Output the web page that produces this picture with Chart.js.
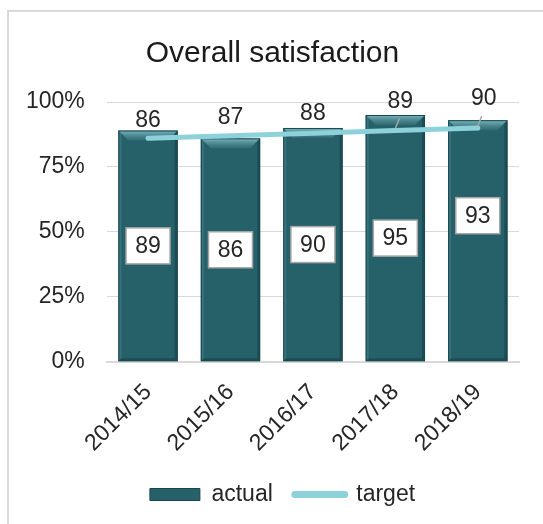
<!DOCTYPE html>
<html>
<head>
<meta charset="utf-8">
<script src="https://cdn.jsdelivr.net/npm/chart.js@4.4.1/dist/chart.umd.min.js"></script>
<style>
    html, body { margin: 0; padding: 0; background: #fff; overflow: hidden; }
    #frame {
        position: absolute; left: 7px; top: 10px;
        width: 580px; height: 580px;
        border: 2px solid #d9d9d9;
    }
    #box { position: absolute; left: 0; top: 0; width: 532px; height: 512px; }
</style>
</head>
<body>
<div id="frame"><div id="box"><canvas id="satisfactionChart"></canvas></div></div>
<script>
var categories = ['2014/15', '2015/16', '2016/17', '2017/18', '2018/19'];
var actualValues = [89, 86, 90, 95, 93];
var targetValues = [86, 87, 88, 89, 90];
var yTicks = [0, 25, 50, 75, 100];

var barColor = '#26616a';
var lineColor = '#8dd2db';
var textColor = '#262626';
var fontFamily = '"Liberation Sans", Arial, sans-serif';

// bevel look on top of the bars
var bevelPlugin = {
    id: 'bevel',
    afterDatasetDraw: function (chart, args) {
        if (chart.data.datasets[args.index].type !== 'bar') return;
        var ctx = chart.ctx;
        args.meta.data.forEach(function (bar) {
            var l = bar.x - bar.width / 2, r = bar.x + bar.width / 2;
            var t = bar.y, b = bar.base, d = 10;
            ctx.save();
            var g = ctx.createLinearGradient(0, t, 0, t + d);
            g.addColorStop(0, 'rgba(140,200,206,0.85)');
            g.addColorStop(1, 'rgba(70,130,138,0.35)');
            ctx.fillStyle = g;
            ctx.beginPath();
            ctx.moveTo(l, t); ctx.lineTo(r, t); ctx.lineTo(r - d, t + d); ctx.lineTo(l + d, t + d);
            ctx.closePath(); ctx.fill();
            ctx.fillStyle = 'rgba(90,150,158,0.35)';
            ctx.beginPath();
            ctx.moveTo(l, t); ctx.lineTo(l + 3, t + 3); ctx.lineTo(l + 3, b - 3); ctx.lineTo(l, b);
            ctx.closePath(); ctx.fill();
            ctx.fillStyle = 'rgba(10,40,45,0.35)';
            ctx.beginPath();
            ctx.moveTo(r, t); ctx.lineTo(r - 3, t + 3); ctx.lineTo(r - 3, b - 3); ctx.lineTo(r, b);
            ctx.closePath(); ctx.fill();
            ctx.beginPath();
            ctx.moveTo(l, b); ctx.lineTo(l + 3, b - 3); ctx.lineTo(r - 3, b - 3); ctx.lineTo(r, b);
            ctx.closePath(); ctx.fill();
            ctx.strokeStyle = '#1b474e';
            ctx.lineWidth = 1;
            ctx.strokeRect(l + 0.5, t + 0.5, bar.width - 1, b - t - 1);
            ctx.restore();
        });
    }
};

// value labels: boxed ones in the bars, plain ones over the target line
var labelPlugin = {
    id: 'valueLabels',
    afterDatasetsDraw: function (chart, args, opts) {
        var ctx = chart.ctx;
        ctx.save();
        ctx.font = '23px ' + fontFamily;
        ctx.textAlign = 'center';
        ctx.textBaseline = 'middle';
        chart.data.datasets.forEach(function (ds, di) {
            var meta = chart.getDatasetMeta(di);
            meta.data.forEach(function (el, i) {
                var txt = String(ds.data[i]);
                if (ds.type === 'bar') {
                    var cy = (el.y + el.base) / 2 + opts.barShift[i];
                    ctx.fillStyle = '#fff';
                    ctx.fillRect(el.x - 22, cy - 18, 44, 36);
                    ctx.strokeStyle = '#a6a6a6';
                    ctx.lineWidth = 1.5;
                    ctx.strokeRect(el.x - 22, cy - 18, 44, 36);
                    ctx.fillStyle = textColor;
                    ctx.fillText(txt, el.x, cy + 1);
                } else {
                    var s = opts.lineShift[i];
                    var lx = el.x + s[0], ly = el.y + s[1];
                    if (s[2]) {
                        ctx.strokeStyle = '#a6a6a6';
                        ctx.lineWidth = 1.5;
                        ctx.beginPath();
                        ctx.moveTo(el.x, el.y - 2);
                        ctx.lineTo(el.x + 4, el.y - 12);
                        ctx.stroke();
                    }
                    ctx.fillStyle = textColor;
                    ctx.fillText(txt, lx, ly);
                }
            });
        });
        ctx.restore();
    }
};

// nudge the legend a little to the right, like the original
var legendShift = {
    id: 'legendShift',
    afterLayout: function (chart) {
        chart.legend.left += 10;
        chart.legend.right += 10;
    }
};

var ctx = document.getElementById('satisfactionChart').getContext('2d');
var myChart = new Chart(ctx, {
    data: {
        labels: categories,
        datasets: [{
            type: 'bar',
            label: 'actual',
            data: actualValues,
            backgroundColor: barColor,
            categoryPercentage: 1,
            barPercentage: 0.72,
            order: 2
        }, {
            type: 'line',
            label: 'target',
            data: targetValues,
            borderColor: lineColor,
            backgroundColor: lineColor,
            borderWidth: 5,
            borderCapStyle: 'round',
            pointRadius: 0,
            tension: 0,
            order: 1
        }]
    },
    options: {
        responsive: true,
        maintainAspectRatio: false,
        animation: false,
        layout: {
            autoPadding: false,
            padding: { left: 17, right: 22, top: 0, bottom: 8 }
        },
        scales: {
            x: {
                grid: { display: false },
                border: { color: '#d9d9d9', width: 2 },
                ticks: {
                    color: textColor,
                    font: { size: 23, family: fontFamily },
                    minRotation: 45,
                    maxRotation: 45,
                    padding: 9
                },
                afterFit: function (axis) {
                    axis.height -= 5;
                    axis.paddingLeft = 0;
                    axis.paddingRight = 0;
                }
            },
            y: {
                min: 0,
                max: 100,
                afterBuildTicks: function (axis) {
                    axis.ticks = yTicks.map(function (v) { return { value: v }; });
                },
                // chart.js counts the tick padding on both sides, drop one
                afterFit: function (axis) { axis.width -= 22; },
                grid: { color: '#d9d9d9', drawTicks: false },
                border: { display: false },
                ticks: {
                    color: textColor,
                    font: { size: 23, family: fontFamily },
                    padding: 22,
                    callback: function (v) { return v + '%'; }
                }
            }
        },
        plugins: {
            title: {
                display: true,
                text: 'Overall satisfaction',
                color: '#1a1a1a',
                font: { size: 30, family: fontFamily, weight: 'normal' },
                padding: { top: 24, bottom: 30 }
            },
            legend: {
                display: true,
                position: 'bottom',
                labels: {
                    color: textColor,
                    font: { size: 23, family: fontFamily },
                    usePointStyle: true,
                    pointStyleWidth: 50,
                    boxHeight: 12,
                    padding: 22,
                    sort: function (a, b) { return a.datasetIndex - b.datasetIndex; },
                    generateLabels: function (chart) {
                        var items = Chart.defaults.plugins.legend.labels.generateLabels(chart);
                        items.forEach(function (it) {
                            if (it.datasetIndex === 0) {
                                it.pointStyle = 'rect';
                                it.fillStyle = barColor;
                                it.strokeStyle = '#1b474e';
                                it.lineWidth = 1;
                            } else {
                                it.pointStyle = 'line';
                                it.strokeStyle = lineColor;
                                it.lineWidth = 7;
                                it.lineCap = 'round';
                            }
                        });
                        return items;
                    }
                }
            },
            tooltip: { enabled: false },
            valueLabels: {
                barShift: [0, 0, 0, 0, -25],
                lineShift: [[0, -18], [0, -18], [0, -20], [5, -29, true], [6, -29, true]]
            }
        }
    },
    plugins: [bevelPlugin, labelPlugin, legendShift]
});
</script>
</body>
</html>
